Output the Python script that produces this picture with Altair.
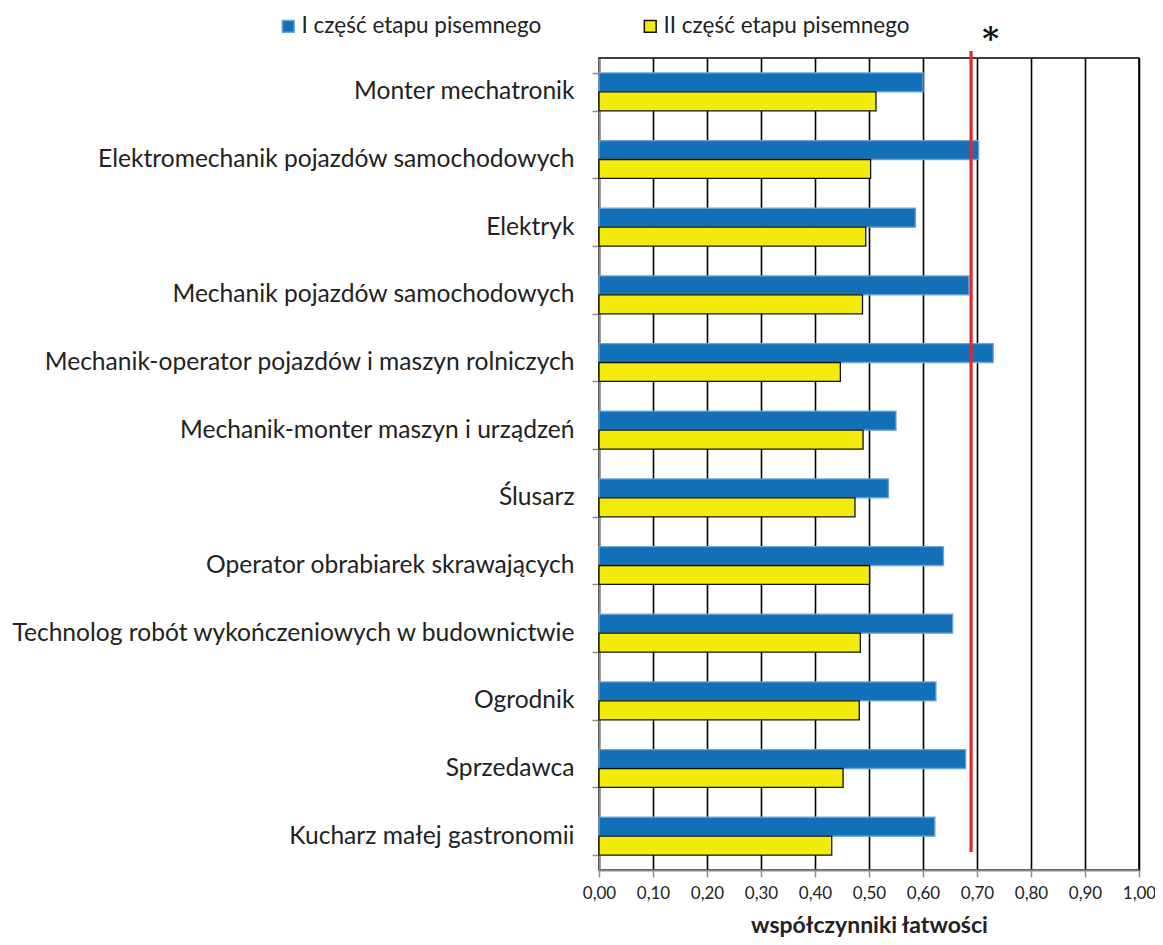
import altair as alt
import pandas as pd

categories = [
    "Monter mechatronik",
    "Elektromechanik pojazdów samochodowych",
    "Elektryk",
    "Mechanik pojazdów samochodowych",
    "Mechanik-operator pojazdów i maszyn rolniczych",
    "Mechanik-monter maszyn i urządzeń",
    "Ślusarz",
    "Operator obrabiarek skrawających",
    "Technolog robót wykończeniowych w budownictwie",
    "Ogrodnik",
    "Sprzedawca",
    "Kucharz małej gastronomii",
]
series = ["I część etapu pisemnego", "II część etapu pisemnego"]
part1 = [0.600, 0.703, 0.586, 0.685, 0.730, 0.550, 0.536, 0.638, 0.655, 0.624, 0.679, 0.622]
part2 = [0.513, 0.503, 0.494, 0.488, 0.447, 0.489, 0.474, 0.501, 0.484, 0.482, 0.452, 0.431]
ref_value = [0.689]
star_pos = [0.725]
star_text = ["*"]

rows = []
for c, a, b in zip(categories, part1, part2):
    rows.append({"kat": c, "seria": series[0], "val": a})
    rows.append({"kat": c, "seria": series[1], "val": b})
df = pd.DataFrame(rows)

FONT = "Lato"
legend = alt.Legend(
    title=None, orient="none", legendX=-322, legendY=-43, direction="horizontal",
    symbolType="square", symbolSize=140, symbolStrokeWidth=1.5, labelFont=FONT,
    labelFontSize=22.5, labelColor="#222222", labelLimit=400, columnPadding=97,
    labelOffset=2, padding=0,
)

bars = alt.Chart(df).mark_bar(strokeWidth=1.3).encode(
    y=alt.Y("kat:N", sort=categories, title=None,
            scale=alt.Scale(paddingInner=0.44, paddingOuter=0.22),
            axis=alt.Axis(tickBand="extent", tickSize=7, tickColor="#8c8c8c", tickWidth=1.5,
                          domainColor="#8c8c8c", domainWidth=2, labelPadding=18,
                          labelFont=FONT, labelFontSize=24.6, labelColor="#222222",
                          labelLimit=700, grid=False)),
    yOffset=alt.YOffset("seria:N", sort=series, scale=alt.Scale(paddingInner=0.0)),
    x=alt.X("val:Q", scale=alt.Scale(domain=[0, 1], nice=False),
            title="współczynniki łatwości",
            axis=alt.Axis(values=[i / 10 for i in range(11)],
                          labelExpr="replace(format(datum.value, '.2f'), '.', ',')",
                          labelFlush=False, labelOverlap=False,
                          grid=True, gridColor="#000000", gridWidth=1.6,
                          tickSize=7, tickColor="#8c8c8c", tickWidth=1.5,
                          domainColor="#8c8c8c", domainWidth=2, labelPadding=8,
                          labelFont=FONT, labelFontSize=17, labelColor="#222222",
                          titleFont=FONT, titleFontSize=23, titleFontWeight="bold",
                          titleColor="#222222", titlePadding=13)),
    color=alt.Color("seria:N", scale=alt.Scale(domain=series, range=["#1170B8", "#F2EB0C"]),
                    legend=legend),
    stroke=alt.Stroke("seria:N", scale=alt.Scale(domain=series, range=["#6FA3D6", "#111111"]),
                      legend=legend),
)

rule = alt.Chart(pd.DataFrame({"x": ref_value})).mark_rule(color="#E5262B", strokeWidth=3.2).encode(
    x="x:Q", y=alt.value(-7), y2=alt.value(794)
)

star = alt.Chart(pd.DataFrame({"x": star_pos, "t": star_text})).mark_text(
    font="DejaVu Serif", fontSize=32, fontWeight="bold", color="#111111", baseline="middle"
).encode(x="x:Q", y=alt.value(-19), text="t:N")

chart = alt.layer(bars, rule, star).properties(
    width=540, height=812, autosize="none",
    padding={"left": 591, "top": 50, "right": 16, "bottom": 67},
).configure_view(stroke="#000000", strokeWidth=1.6)

chart.save("out.html", embed_options={"renderer": "svg", "actions": False})
